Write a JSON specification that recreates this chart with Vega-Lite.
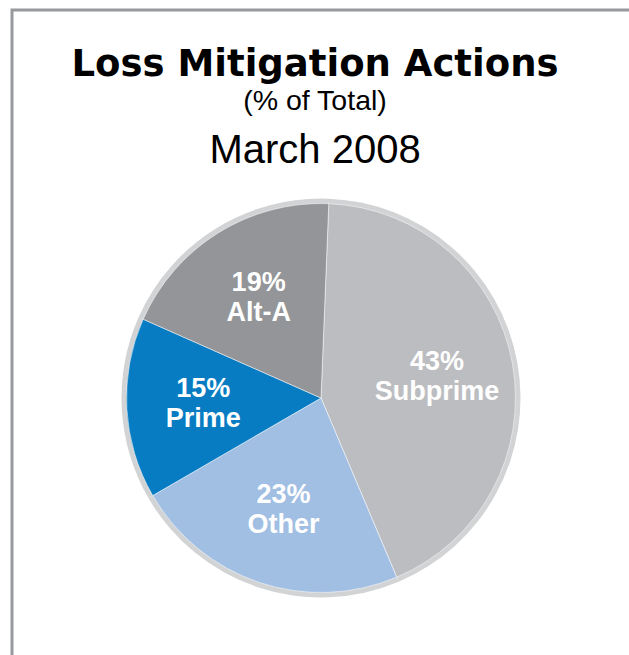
{
  "$schema": "https://vega.github.io/schema/vega-lite/v6.json",
  "autosize": {"type": "pad"},
  "padding": {"left": 9, "top": 7, "right": 0, "bottom": 0},
  "background": "white",
  "title": {
    "text": "Loss Mitigation Actions",
    "subtitle": "(% of Total)",
    "anchor": "middle",
    "frame": "group",
    "offset": -108.5,
    "dx": -5.5,
    "font": "DejaVu Sans",
    "fontWeight": "bold",
    "fontSize": 37,
    "color": "#000000",
    "subtitleFont": "Liberation Sans",
    "subtitleFontSize": 28.5,
    "subtitleColor": "#000000",
    "subtitlePadding": 3
  },
  "vconcat": [
    {
      "title": {
        "text": "March 2008",
        "anchor": "middle",
        "frame": "group",
        "offset": -160.5,
        "dx": -5.5,
        "font": "Liberation Sans",
        "fontWeight": "normal",
        "fontSize": 40,
        "color": "#000000"
      },
      "width": 617,
      "height": 645,
      "view": {"stroke": "#98999c", "strokeWidth": 3, "strokeCap": "square", "strokeDash": [617, 1262, 645]},
      "data": {
        "values": [
          {"segment": "Subprime", "share": 0.43, "rank": 1},
          {"segment": "Other", "share": 0.23, "rank": 2},
          {"segment": "Prime", "share": 0.15, "rank": 3},
          {"segment": "Alt-A", "share": 0.19, "rank": 4}
        ]
      },
      "encoding": {
        "theta": {"field": "share", "type": "quantitative", "stack": true, "scale": {"range": [0.04, 6.3232]}},
        "order": {"field": "rank", "type": "quantitative"}
      },
      "layer": [
        {
          "mark": {"type": "arc", "outerRadius": 199.5, "innerRadius": 193, "color": "#d1d3d4", "xOffset": 0.5, "yOffset": 65.5}
        },
        {
          "mark": {"type": "arc", "outerRadius": 194.5, "stroke": "#ffffff", "strokeWidth": 0.5, "xOffset": 0.5, "yOffset": 65.5},
          "encoding": {
            "color": {
              "field": "segment",
              "type": "nominal",
              "scale": {
                "domain": ["Subprime", "Other", "Prime", "Alt-A"],
                "range": ["#bcbdc0", "#a1bee3", "#077cc2", "#939598"]
              },
              "legend": null
            }
          }
        },
        {
          "mark": {"type": "text", "radius": 118, "dy": -15, "xOffset": 0.5, "yOffset": 65.5, "font": "Liberation Sans", "fontWeight": "bold", "fontSize": 27, "color": "#ffffff", "baseline": "middle", "align": "center"},
          "encoding": {"text": {"field": "share", "type": "quantitative", "format": ".0%"}}
        },
        {
          "mark": {"type": "text", "radius": 118, "dy": 15, "xOffset": 0.5, "yOffset": 65.5, "font": "Liberation Sans", "fontWeight": "bold", "fontSize": 27, "color": "#ffffff", "baseline": "middle", "align": "center"},
          "encoding": {"text": {"field": "segment", "type": "nominal"}}
        }
      ]
    }
  ]
}
